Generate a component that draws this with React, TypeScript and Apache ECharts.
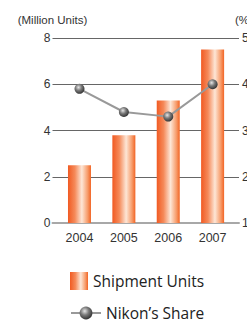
import React, { useEffect, useRef } from "react";
import * as echarts from "echarts";

const years = ["2004", "2005", "2006", "2007"];
const shipmentUnits = [2.5, 3.8, 5.3, 7.5];
const nikonShare = [3.9, 3.4, 3.3, 4.0];
const leftTicks = { min: 0, max: 8, interval: 2 };
const rightTicks = { min: 1, max: 5, interval: 1 };

const AXIS_FONT = "'Liberation Sans', Arial, sans-serif";
const LEGEND_FONT = "'Open Sans', 'Noto Sans', sans-serif";

export default function App() {
  const ref = useRef<HTMLDivElement>(null);
  useEffect(() => {
    document.body.style.margin = "0";
    const chart = echarts.init(ref.current!, null, { renderer: "svg" });
    const barGrad = new echarts.graphic.LinearGradient(0, 0, 1, 0, [
      { offset: 0, color: "#f15a22" },
      { offset: 0.3, color: "#f58a5a" },
      { offset: 0.6, color: "#fde6d6" },
      { offset: 0.85, color: "#f79d6c" },
      { offset: 1, color: "#f26424" },
    ]);
    const ballGrad = new echarts.graphic.RadialGradient(0.4, 0.35, 0.7, [
      { offset: 0, color: "#e6e6e6" },
      { offset: 0.45, color: "#7a7a7a" },
      { offset: 1, color: "#2a2a2a" },
    ]);
    const top = 38;
    const height = 185;
    chart.setOption({
      animation: false,
      grid: [
        { left: 52.5, right: 8, top, height, outerBoundsMode: "none", containLabel: false },
        { left: 57.3, right: 12.2, top, height, outerBoundsMode: "none", containLabel: false },
      ],
      xAxis: [
        {
          gridIndex: 0,
          type: "category",
          data: years,
          axisLine: { show: true, lineStyle: { color: "#a8a8a8", width: 2 } },
          axisTick: { show: false },
          axisLabel: { show: false },
        },
        {
          gridIndex: 1,
          type: "category",
          data: years,
          axisLine: { show: false },
          axisTick: { show: false },
          axisLabel: {
            color: "#333",
            fontSize: 12.5,
            fontFamily: AXIS_FONT,
            margin: 8,
          },
        },
      ],
      yAxis: [
        {
          gridIndex: 0,
          type: "value",
          position: "left",
          ...leftTicks,
          name: "(Million Units)",
          nameLocation: "end",
          nameGap: 12,
          nameTextStyle: { color: "#333", fontSize: 11.5, fontFamily: AXIS_FONT },
          axisLine: { show: false },
          axisTick: { show: false },
          axisLabel: { color: "#333", fontSize: 12, fontFamily: AXIS_FONT, margin: 2 },
          splitLine: { show: true, showMinLine: false, lineStyle: { color: "#666", width: 1 } },
        },
        {
          gridIndex: 0,
          type: "value",
          position: "right",
          ...rightTicks,
          name: "(%)",
          nameLocation: "end",
          nameGap: 12,
          nameTextStyle: {
            color: "#333",
            fontSize: 11.5,
            fontFamily: AXIS_FONT,
            align: "left",
            padding: [0, 0, 0, -4],
          },
          axisLine: { show: false },
          axisTick: { show: false },
          axisLabel: { color: "#333", fontSize: 12, fontFamily: AXIS_FONT, margin: 3 },
          splitLine: { show: false },
        },
        { gridIndex: 1, type: "value", ...leftTicks, show: false },
        { gridIndex: 1, type: "value", ...rightTicks, show: false },
      ],
      legend: [
        {
          data: [{ name: "Shipment Units", icon: "rect" }],
          left: 65,
          top: 267,
          itemWidth: 18,
          itemHeight: 18,
          textStyle: { color: "#222", fontSize: 15.5, fontFamily: LEGEND_FONT },
        },
        {
          data: [{ name: "Nikon’s Share" }],
          left: 65,
          top: 300,
          itemWidth: 30,
          itemHeight: 16,
          textStyle: {
            color: "#222",
            fontSize: 15.5,
            fontFamily: LEGEND_FONT,
          },
        },
      ],
      series: [
        {
          name: "Shipment Units",
          type: "bar",
          xAxisIndex: 1,
          yAxisIndex: 2,
          data: shipmentUnits,
          barWidth: 23,
          itemStyle: { color: barGrad },
        },
        {
          name: "Nikon’s Share",
          type: "line",
          xAxisIndex: 1,
          yAxisIndex: 3,
          data: nikonShare,
          symbol: "circle",
          symbolSize: 10,
          z: 5,
          lineStyle: { color: "#999", width: 2 },
          itemStyle: { color: ballGrad, borderWidth: 0 },
        },
      ],
    });
    return () => chart.dispose();
  }, []);
  return <div ref={ref} style={{ width: 247, height: 321 }} />;
}
